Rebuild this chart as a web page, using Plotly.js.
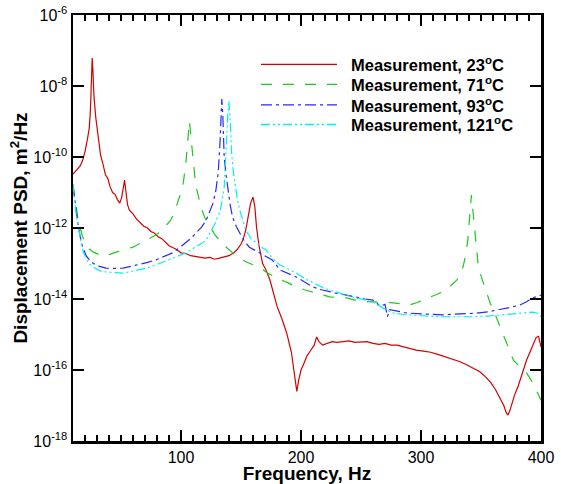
<!DOCTYPE html>
<html>
<head>
<meta charset="utf-8">
<script src="https://cdn.plot.ly/plotly-3.0.1.min.js"></script>
<style>html,body{margin:0;padding:0;background:#fff;}#chart{width:561px;height:484px;}</style>
</head>
<body>
<div id="chart"></div>
<script>
// Values (log10 of PSD, m^2/Hz)
const seriesNames = ['Measurement, 23<sup>o</sup>C', 'Measurement, 71<sup>o</sup>C', 'Measurement, 93<sup>o</sup>C', 'Measurement, 121<sup>o</sup>C'];

const f23 = [10,12,14,16,18,20,22,23.5,24.5,25.5,26,26.5,27.5,29,31,33,35,37,39,41,43,45,47,49,50.5,52,53,54,55.5,57,60,63,66,69,72,75,78,81,84,87,90,93,96,100,104,108,112,116,120,124,128,132,136,140,144,147,150,152,154,156,158,160,161.5,163,165,168,171,174,177,180,184,188,192,195,196.5,198,200,202,205,208,211,213,215,218,222,226,230,235,240,245,250,255,260,265,270,275,280,285,290,296,302,308,314,320,326,332,338,344,349,354,358,362,366,369,371,372.5,374,376,378,381,384,388,392,396,398,400];
const logP23 = [-10.48,-10.4,-10.3,-10.25,-10.1,-9.85,-9.5,-9.2,-8.7,-7.7,-7.21,-7.5,-8.3,-8.9,-9.5,-9.95,-10.2,-10.5,-10.6,-10.85,-11.0,-11.05,-11.2,-11.3,-11.15,-10.8,-10.65,-10.95,-11.35,-11.5,-11.6,-11.75,-11.85,-11.95,-12.0,-12.1,-12.15,-12.25,-12.3,-12.4,-12.5,-12.55,-12.6,-12.7,-12.72,-12.78,-12.8,-12.82,-12.85,-12.83,-12.88,-12.85,-12.82,-12.78,-12.7,-12.6,-12.45,-12.3,-12.05,-11.7,-11.3,-11.13,-11.4,-12.0,-12.5,-13.0,-13.2,-13.45,-13.8,-14.2,-14.55,-14.95,-15.5,-16.2,-16.6,-16.3,-16.0,-15.85,-15.6,-15.45,-15.3,-15.07,-15.2,-15.3,-15.25,-15.2,-15.22,-15.2,-15.18,-15.22,-15.2,-15.2,-15.25,-15.28,-15.25,-15.3,-15.3,-15.35,-15.38,-15.44,-15.47,-15.5,-15.56,-15.62,-15.68,-15.76,-15.85,-15.95,-16.05,-16.2,-16.35,-16.55,-16.8,-17.0,-17.2,-17.27,-17.15,-16.9,-16.7,-16.45,-16.15,-15.72,-15.4,-15.08,-15.05,-15.35];

const f71 = [10,12,14,16,18,21,24,27,31,35,40,46,53,60,67,74,79,83,87,91,94,96,98,100,102,104,105.5,107,108.5,110,111.5,113,115,117,120,124,128,132,137,143,148,154,160,166,172,178,184,190,196,203,210,217,224,231,238,245,252,260,268,275,282,290,297,305,311,318,323,327,330,333,335,337,339,340.5,342,343.5,345,347.5,350,353,357.5,362,367,372,377,382,388,393,397.5,400];
const logP71 = [-10.8,-11.3,-11.7,-12.0,-12.25,-12.45,-12.6,-12.68,-12.75,-12.8,-12.75,-12.68,-12.6,-12.54,-12.42,-12.3,-12.2,-12.1,-11.95,-11.8,-11.6,-11.4,-11.2,-11.0,-10.7,-10.2,-9.6,-8.99,-9.5,-10.1,-10.55,-10.9,-11.2,-11.45,-11.72,-11.97,-12.18,-12.34,-12.52,-12.7,-12.83,-12.95,-13.03,-13.12,-13.27,-13.38,-13.47,-13.56,-13.66,-13.74,-13.8,-13.88,-13.94,-13.96,-13.97,-14.03,-14.07,-14.08,-14.08,-14.1,-14.13,-14.17,-14.1,-13.97,-13.9,-13.8,-13.68,-13.55,-13.46,-13.25,-13.1,-12.8,-12.34,-11.7,-11.07,-11.6,-12.14,-12.99,-13.35,-13.66,-14.1,-14.45,-14.87,-15.3,-15.72,-15.9,-16.08,-16.35,-16.65,-16.85];

const f93 = [10,12,14,16,18,21,24,27,32,37.5,44,51.7,58,65.5,72,79,86,93,99,104,108,112.5,117,121,124,126.7,129,131,132.5,133.5,134,134.8,136,137.5,139,141,143,146,149,153,157,162,168,176,182.5,189,196,203,210,217,224,231,238,246,253,260,266,270,272,274,280,286,291,300,309,318,327,336,346,356,366,374,382.5,388,393,397,400];
const logP93 = [-10.8,-11.4,-11.85,-12.25,-12.54,-12.78,-12.92,-13.0,-13.08,-13.13,-13.14,-13.13,-13.08,-13.04,-12.97,-12.9,-12.8,-12.7,-12.55,-12.42,-12.3,-12.14,-11.98,-11.78,-11.55,-11.3,-10.95,-10.45,-9.6,-8.8,-8.37,-8.8,-10.0,-10.5,-10.93,-11.35,-11.7,-11.95,-12.14,-12.38,-12.54,-12.63,-12.75,-12.9,-13.18,-13.28,-13.38,-13.52,-13.66,-13.74,-13.8,-13.85,-13.89,-13.95,-14.0,-14.03,-14.2,-14.15,-14.5,-14.3,-14.35,-14.38,-14.4,-14.42,-14.44,-14.45,-14.43,-14.42,-14.4,-14.36,-14.3,-14.24,-14.17,-14.08,-13.97,-13.92,-13.89];

const f121 = [10,12,14,16,18,21,24,27,32,37.5,44,51.7,58,65.5,72,79,86,93,99,104,108,112.5,117,121,124,128,132,134,136,137,138,139,140,141,142,143.5,144.7,147,149,151.5,154,158,162.5,167,171,176,182.5,189,196,203,210,217,224,231,238,246,253,260,268,277,284,291,300,309,318,327,336,346,356,366,374,382.5,388,393,397,400];
const logP121 = [-10.75,-11.45,-11.9,-12.3,-12.62,-12.88,-13.02,-13.1,-13.2,-13.24,-13.26,-13.27,-13.23,-13.18,-13.12,-13.04,-12.95,-12.85,-12.76,-12.7,-12.62,-12.54,-12.44,-12.34,-12.14,-11.9,-11.58,-11.3,-10.85,-10.3,-9.52,-8.8,-8.42,-9.0,-9.8,-10.4,-10.73,-11.2,-11.5,-11.8,-12.06,-12.28,-12.42,-12.54,-12.62,-12.85,-13.04,-13.15,-13.27,-13.42,-13.55,-13.66,-13.75,-13.83,-13.89,-13.97,-14.03,-14.08,-14.25,-14.4,-14.43,-14.45,-14.47,-14.49,-14.5,-14.5,-14.51,-14.5,-14.48,-14.45,-14.42,-14.4,-14.38,-14.37,-14.4,-14.5];

const yTickExp = [-18,-16,-14,-12,-10,-8,-6];
const xTickVals = [100,200,300,400];

const toPSD = a => a.map(v => Math.pow(10, v));

const FONT = 'Liberation Sans, Arial, sans-serif';
const colors = ['#d40000', '#1ec81e', '#2828ff', '#00f0f0'];
const dashes = ['solid', '11px,11px', '11px,4px,3px,4px', '9px,3px,2px,3px,2px,3px'];

const xs = [f23, f71, f93, f121];
const ys = [logP23, logP71, logP93, logP121];

const traces = xs.map((x, i) => ({
  type: 'scatter', mode: 'lines', hoverinfo: 'skip', showlegend: false,
  x: x, y: toPSD(ys[i]), name: seriesNames[i],
  line: {color: colors[i], width: 1.2, dash: dashes[i]}
}));

// Legend drawn as paper-positioned samples + text (matches the long sample lines of the reference)
const legendRowY = [0.884, 0.837, 0.789, 0.743];
const shapes = legendRowY.map((yy, i) => ({
  type: 'line', xref: 'paper', yref: 'paper', x0: 0.4017, x1: 0.5641, y0: yy, y1: yy,
  line: {color: colors[i], width: 1.3, dash: dashes[i]}
}));
const annotations = legendRowY.map((yy, i) => ({
  xref: 'paper', yref: 'paper', x: 0.5897, y: yy, xanchor: 'left', yanchor: 'middle',
  text: seriesNames[i], showarrow: false,
  font: {family: FONT, size: 16.5, weight: 'bold', color: '#000'}
}));

const layout = {
  width: 561, height: 484,
  margin: {l: 73, r: 20, t: 15, b: 43},
  paper_bgcolor: '#fff', plot_bgcolor: '#fff',
  font: {family: FONT, color: '#000'},
  showlegend: false,
  shapes: shapes,
  annotations: annotations,
  xaxis: {
    range: [10, 400], type: 'linear',
    tickmode: 'array', tickvals: xTickVals, ticktext: xTickVals.map(String),
    ticks: 'inside', ticklen: 11, tickwidth: 2.5, tickcolor: '#000',
    minor: {dtick: 10, tick0: 0, ticks: 'inside', ticklen: 6, tickwidth: 1.2, tickcolor: '#000'},
    showline: true, linewidth: 2.5, linecolor: '#000', mirror: 'ticks',
    showgrid: false, zeroline: false,
    tickfont: {family: FONT, size: 16, color: '#000'},
    title: {text: 'Frequency, Hz', font: {family: FONT, size: 19, weight: 'bold', color: '#000'}, standoff: 4}
  },
  yaxis: {
    type: 'log', range: [-18, -6],
    tickmode: 'array', tickvals: yTickExp.map(e => Math.pow(10, e)),
    ticktext: yTickExp.map(e => '10<sup>' + e + '</sup>'),
    ticks: 'inside', ticklen: 11, tickwidth: 2.5, tickcolor: '#000',
    showline: true, linewidth: 2.5, linecolor: '#000', mirror: 'ticks',
    showgrid: false, zeroline: false,
    tickfont: {family: FONT, size: 16, color: '#000'},
    title: {text: 'Displacement PSD, m<sup>2</sup>/Hz', font: {family: FONT, size: 19, weight: 'bold', color: '#000'}, standoff: 1}
  }
};

Plotly.newPlot('chart', traces, layout, {staticPlot: true, displayModeBar: false});
</script>
</body>
</html>
